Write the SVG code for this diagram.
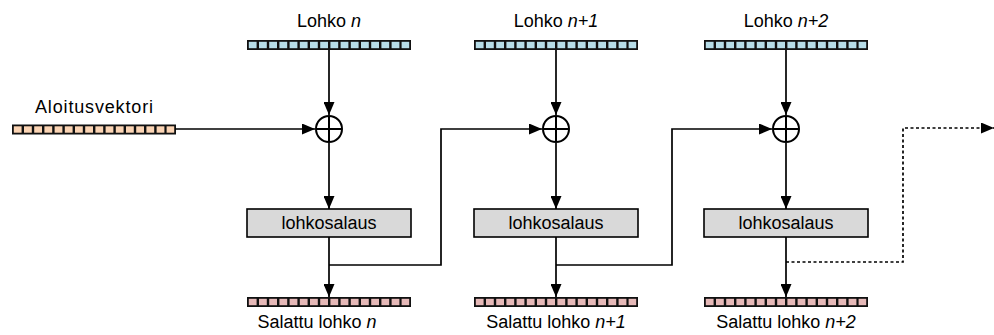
<svg xmlns="http://www.w3.org/2000/svg" xmlns:xlink="http://www.w3.org/1999/xlink" width="994" height="335" viewBox="0 0 994 335">
<style>
text{font-family:"Liberation Sans",Arial,sans-serif;font-size:18px;fill:#000}
.c{text-anchor:middle}
.ln{fill:none;stroke:#000;stroke-width:1.7}
.dot{fill:none;stroke:#000;stroke-width:1.7;stroke-dasharray:3,2.5}
.box{fill:#d9d9d9;stroke:#000;stroke-width:1.6}
.xor{fill:none;stroke:#000;stroke-width:2}
</style>
<defs>
<marker id="ah" markerWidth="13" markerHeight="11" refX="13" refY="5.5" orient="auto" markerUnits="userSpaceOnUse"><path d="M0,0 L13,5.5 L0,11 z" fill="#000"/></marker>
<g id="cells">
<rect x="0" y="0" width="164" height="10" fill="#111"/>
<rect x="1.8" y="1.8" width="7.8" height="6.4"/><rect x="12" y="1.8" width="7.8" height="6.4"/><rect x="22.2" y="1.8" width="7.8" height="6.4"/><rect x="32.4" y="1.8" width="7.8" height="6.4"/><rect x="42.6" y="1.8" width="7.8" height="6.4"/><rect x="52.8" y="1.8" width="7.8" height="6.4"/><rect x="63" y="1.8" width="7.8" height="6.4"/><rect x="73.2" y="1.8" width="7.8" height="6.4"/><rect x="83.4" y="1.8" width="7.8" height="6.4"/><rect x="93.6" y="1.8" width="7.8" height="6.4"/><rect x="103.8" y="1.8" width="7.8" height="6.4"/><rect x="114" y="1.8" width="7.8" height="6.4"/><rect x="124.2" y="1.8" width="7.8" height="6.4"/><rect x="134.4" y="1.8" width="7.8" height="6.4"/><rect x="144.6" y="1.8" width="7.8" height="6.4"/><rect x="154.6" y="1.8" width="7.6" height="6.4"/>
</g>
</defs>

<g id="iv">
<use xlink:href="#cells" href="#cells" x="12" y="124.5" fill="#fbd4b4"/>
<text x="94" y="113" class="c" textLength="118" lengthAdjust="spacing">Aloitusvektori</text>
</g>

<g id="block-n">
<text x="329" y="27" class="c">Lohko <tspan font-style="italic">n</tspan></text>
<use xlink:href="#cells" href="#cells" x="247" y="40" fill="#b7dde8"/>
</g>
<g id="block-n1">
<text x="556" y="27" class="c">Lohko <tspan font-style="italic">n+1</tspan></text>
<use xlink:href="#cells" href="#cells" x="474" y="40" fill="#b7dde8"/>
</g>
<g id="block-n2">
<text x="786" y="27" class="c">Lohko <tspan font-style="italic">n+2</tspan></text>
<use xlink:href="#cells" href="#cells" x="704" y="40" fill="#b7dde8"/>
</g>

<g id="xor-1"><circle cx="329" cy="129" r="13" class="xor"/><path d="M316,129 H342 M329,116 V142" class="xor"/></g>
<g id="xor-2"><circle cx="556" cy="129" r="13" class="xor"/><path d="M543,129 H569 M556,116 V142" class="xor"/></g>
<g id="xor-3"><circle cx="786" cy="129" r="13" class="xor"/><path d="M773,129 H799 M786,116 V142" class="xor"/></g>

<g id="enc-1"><rect x="247" y="209" width="164" height="28" class="box"/><text x="329" y="229" class="c">lohkosalaus</text></g>
<g id="enc-2"><rect x="474" y="209" width="164" height="28" class="box"/><text x="556" y="229" class="c">lohkosalaus</text></g>
<g id="enc-3"><rect x="704" y="209" width="164" height="28" class="box"/><text x="786" y="229" class="c">lohkosalaus</text></g>

<g id="cipher-n">
<use xlink:href="#cells" href="#cells" x="247" y="297" fill="#e6b9b8"/>
<text x="317" y="328" class="c">Salattu lohko <tspan font-style="italic">n</tspan></text>
</g>
<g id="cipher-n1">
<use xlink:href="#cells" href="#cells" x="474" y="297" fill="#e6b9b8"/>
<text x="556" y="328" class="c">Salattu lohko <tspan font-style="italic">n+1</tspan></text>
</g>
<g id="cipher-n2">
<use xlink:href="#cells" href="#cells" x="704" y="297" fill="#e6b9b8"/>
<text x="786" y="328" class="c">Salattu lohko <tspan font-style="italic">n+2</tspan></text>
</g>

<g id="connectors">
<path d="M175,129 H315" class="ln" marker-end="url(#ah)"/>
<path d="M329,50 V115" class="ln" marker-end="url(#ah)"/>
<path d="M329,143 V209" class="ln" marker-end="url(#ah)"/>
<path d="M329,237 V297" class="ln" marker-end="url(#ah)"/>
<path d="M556,50 V115" class="ln" marker-end="url(#ah)"/>
<path d="M556,143 V209" class="ln" marker-end="url(#ah)"/>
<path d="M556,237 V297" class="ln" marker-end="url(#ah)"/>
<path d="M786,50 V115" class="ln" marker-end="url(#ah)"/>
<path d="M786,143 V209" class="ln" marker-end="url(#ah)"/>
<path d="M786,237 V297" class="ln" marker-end="url(#ah)"/>
<path d="M329,265 H441 V129 H542" class="ln" marker-end="url(#ah)"/>
<path d="M556,265 H672 V129 H772" class="ln" marker-end="url(#ah)"/>
<path d="M786,262 H903 V128 H994" class="dot" marker-end="url(#ah)"/>
</g>
</svg>
